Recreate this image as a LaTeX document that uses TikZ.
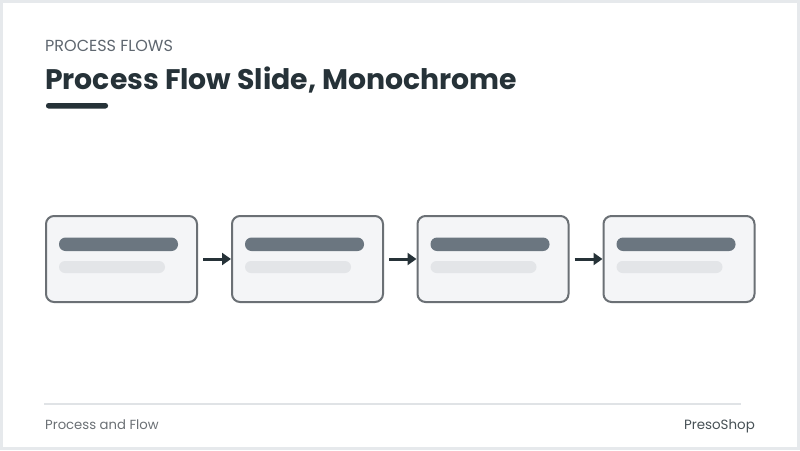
\documentclass[tikz,border=0pt]{standalone}
\usepackage{fontspec}
\setmainfont{Poppins}
\usetikzlibrary{arrows.meta}
\definecolor{frame}{HTML}{E6E9EC}
\definecolor{ink}{HTML}{263238}
\definecolor{sub}{HTML}{5F6770}
\definecolor{boxline}{HTML}{6B7075}
\definecolor{boxfill}{HTML}{F4F5F7}
\definecolor{bardark}{HTML}{6B7680}
\definecolor{barlight}{HTML}{E3E5E8}
\definecolor{rule}{HTML}{E0E3E6}
\tikzset{
  stepbox/.style={draw=boxline, line width=2pt, fill=boxfill, rounded corners=8pt,
    minimum width=151pt, minimum height=86pt, inner sep=0pt},
  flowarrow/.style={draw=ink, line width=3pt, -{Triangle[length=9pt,width=12pt]}, shorten <=5pt},
  bardk/.style={fill=bardark, rounded corners=6.5pt},
  barlt/.style={fill=barlight, rounded corners=6pt},
}
\begin{document}
\begin{tikzpicture}[x=1pt,y=-1pt]
\useasboundingbox (0,0) rectangle (800,450);
\fill[white] (0,0) rectangle (800,450);
\draw[frame, line width=3pt] (1.5,1.5) rectangle (798.5,448.5);
% header
\node[anchor=base west, inner sep=0pt, text=sub, font=\fontsize{16}{19}\selectfont] (kicker) at (45,51) {PROCESS FLOWS};
\node[anchor=base west, inner sep=0pt, text=ink, font=\fontsize{28.3}{33}\selectfont\bfseries] (title) at (45,89) {Process Flow Slide, Monochrome};
\fill[ink, rounded corners=2.5pt] (46,103) rectangle (108,108.5);
% boxes
\foreach \i/\x in {1/121.5,2/307.5,3/493,4/679}{
  \node[stepbox] (b\i) at (\x,259) {};
  \fill[bardk] ([xshift=-62.5pt]\x,237.5) rectangle ([xshift=56.5pt]\x,251);
  \fill[barlt] ([xshift=-62.5pt]\x,261) rectangle ([xshift=43.5pt]\x,273);
}
\draw[flowarrow] (b1.east) -- (b2.west);
\draw[flowarrow] (b2.east) -- (b3.west);
\draw[flowarrow] (b3.east) -- (b4.west);
% footer
\draw[rule, line width=1.2pt] (44,404) -- (741,404);
\node[anchor=base west, inner sep=0pt, text=boxline, font=\fontsize{13.2}{16}\selectfont] (fl) at (45,429) {Process and Flow};
\node[anchor=base east, inner sep=0pt, text=ink!85, font=\fontsize{13.4}{16}\selectfont] (fr) at (755,429) {PresoShop};
\end{tikzpicture}
\end{document}
